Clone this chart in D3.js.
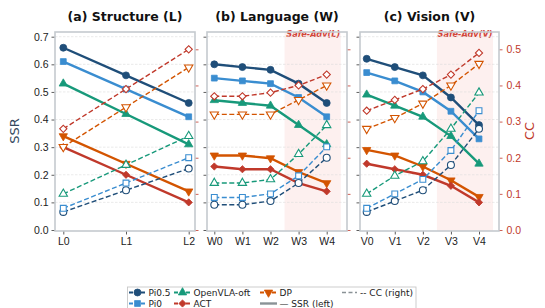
<!DOCTYPE html>
<html>
<head>
<meta charset="utf-8">
<script src="https://cdn.jsdelivr.net/npm/d3@7"></script>
<style>
  body { margin: 0; background: #fff; }
  svg { display: block; font-family: "DejaVu Sans", sans-serif; }
</style>
</head>
<body>
<svg id="chart" width="545" height="308"></svg>
<script>
// Data

const models = ['Pi0.5', 'Pi0', 'OpenVLA-oft', 'DP', 'ACT'];
const colors = ['#1f4e79', '#3a8dd0', '#17997a', '#d35400', '#c0392b'];
const markers = ['circle', 'square', 'triangle', 'triangleDown', 'diamond'];

const structCats = ['L0', 'L1', 'L2'];
const langCats = ['W0', 'W1', 'W2', 'W3', 'W4'];
const visionCats = ['V0', 'V1', 'V2', 'V3', 'V4'];

// SSR (left axis), one row per model
const ssrStructure = [
  [0.66, 0.56, 0.46],
  [0.61, 0.51, 0.41],
  [0.53, 0.42, 0.31],
  [0.34, 0.24, 0.14],
  [0.30, 0.20, 0.10],
];
const ssrLanguage = [
  [0.60, 0.59, 0.58, 0.53, 0.46],
  [0.55, 0.54, 0.53, 0.48, 0.41],
  [0.47, 0.46, 0.45, 0.38, 0.31],
  [0.27, 0.27, 0.26, 0.21, 0.17],
  [0.23, 0.22, 0.22, 0.17, 0.14],
];
const ssrVision = [
  [0.62, 0.59, 0.56, 0.48, 0.38],
  [0.57, 0.54, 0.50, 0.43, 0.33],
  [0.49, 0.45, 0.41, 0.34, 0.24],
  [0.29, 0.27, 0.23, 0.18, 0.12],
  [0.24, 0.22, 0.20, 0.16, 0.10],
];

// CC (right axis)
const ccStructure = [
  [0.05, 0.11, 0.17],
  [0.06, 0.13, 0.20],
  [0.10, 0.18, 0.26],
  [0.23, 0.34, 0.45],
  [0.28, 0.39, 0.50],
];
const ccLanguage = [
  [0.07, 0.07, 0.08, 0.13, 0.20],
  [0.09, 0.09, 0.10, 0.15, 0.23],
  [0.13, 0.13, 0.14, 0.21, 0.29],
  [0.32, 0.32, 0.32, 0.36, 0.40],
  [0.37, 0.37, 0.38, 0.40, 0.43],
];
const ccVision = [
  [0.05, 0.08, 0.11, 0.18, 0.28],
  [0.06, 0.10, 0.14, 0.22, 0.33],
  [0.10, 0.15, 0.19, 0.28, 0.38],
  [0.28, 0.31, 0.35, 0.40, 0.46],
  [0.33, 0.36, 0.39, 0.43, 0.49],
];

const ssrTicks = [0.0, 0.1, 0.2, 0.3, 0.4, 0.5, 0.6, 0.7];
const ccTicks = [0.0, 0.1, 0.2, 0.3, 0.4, 0.5];

const panels = [
  { title: '(a) Structure (L)', cats: structCats, ssr: ssrStructure, cc: ccStructure,
    left: 55, right: 195, x0: 63.3, x1: 188.7, shade: null },
  { title: '(b) Language (W)', cats: langCats, ssr: ssrLanguage, cc: ccLanguage,
    left: 207, right: 347, x0: 214.3, x1: 326.7, shade: 'Safe-Adv(L)' },
  { title: '(c) Vision (V)', cats: visionCats, ssr: ssrVision, cc: ccVision,
    left: 360, right: 499, x0: 366.7, x1: 479, shade: 'Safe-Adv(V)' },
];

// Set-up

const svg = d3.select('#chart');
const plotTop = 32;
const plotBottom = 231;
const ccColor = '#c0392b';
const frameColor = '#c5cacf';

const ySSR = d3.scaleLinear().domain([0, 0.7]).range([230, 36.7]);
const yCC = d3.scaleLinear().domain([0, 0.5]).range([230, 49.3]);

const symbolFor = {
  circle: d3.symbolCircle,
  square: d3.symbolSquare,
  triangle: d3.symbolTriangle,
  triangleDown: d3.symbolTriangle,
  diamond: d3.symbolSquare,
};
const sizeFor = { circle: 38, square: 34, triangle: 30, triangleDown: 30, diamond: 26 };
const rotateFor = { triangleDown: 180, diamond: 45 };

function drawMarker(g, kind, cx, cy, color, open) {
  g.append('path')
    .attr('d', d3.symbol().type(symbolFor[kind]).size(sizeFor[kind])())
    .attr('transform', `translate(${cx},${cy}) rotate(${rotateFor[kind] || 0})`)
    .attr('fill', open ? '#fff' : color)
    .attr('stroke', color)
    .attr('stroke-width', open ? 1.1 : 0.8);
}

panels.forEach((p, pi) => {
  const x = d3.scalePoint().domain(p.cats).range([p.x0, p.x1]);
  const step = x.step();
  const g = svg.append('g');

  // shaded region
  if (p.shade) {
    const sx0 = x(p.cats[2]) + step / 2;
    const sx1 = x(p.cats[4]) + step / 2;
    g.append('rect')
      .attr('x', sx0).attr('y', plotTop)
      .attr('width', sx1 - sx0).attr('height', plotBottom - plotTop)
      .attr('fill', '#fdf0ef');
    g.append('text')
      .attr('x', sx1 - 0.5).attr('y', 36.5)
      .attr('text-anchor', 'end')
      .style('font', 'italic bold 8.2px "DejaVu Sans"')
      .attr('fill', '#d2453a')
      .text(p.shade);
  }

  // grid
  g.selectAll('.grid')
    .data(ssrTicks.slice(1))
    .enter()
    .append('line')
    .attr('x1', p.left).attr('x2', p.right)
    .attr('y1', (d) => ySSR(d)).attr('y2', (d) => ySSR(d))
    .attr('stroke', '#dcdcdc')
    .attr('stroke-width', 0.6)
    .attr('stroke-dasharray', '2.5,1.5');

  // left axis
  const leftAxis = d3.axisLeft(ySSR).tickValues(ssrTicks).tickSize(3.5).tickPadding(3)
    .tickFormat(pi === 0 ? d3.format('.1f') : () => '');
  const la = g.append('g').attr('transform', `translate(${p.left},0)`).call(leftAxis);
  la.select('.domain').remove();
  la.selectAll('line').attr('stroke', '#333').attr('stroke-width', 0.8);
  la.selectAll('text').style('font-size', '10.5px').attr('fill', '#222');

  // right axis
  const rightAxis = d3.axisRight(yCC).tickValues(ccTicks).tickSize(3.5).tickPadding(4)
    .tickFormat(pi === 2 ? d3.format('.1f') : () => '');
  const ra = g.append('g').attr('transform', `translate(${p.right},0)`).call(rightAxis);
  ra.select('.domain').remove();
  ra.selectAll('line').attr('stroke', ccColor).attr('stroke-width', 0.8);
  ra.selectAll('text').style('font-size', '10.5px').attr('fill', ccColor);

  // bottom axis
  const bx = g.append('g').attr('transform', `translate(0,${plotBottom})`)
    .call(d3.axisBottom(x).tickSize(3.5).tickPadding(3));
  bx.select('.domain').remove();
  bx.selectAll('line').attr('stroke', '#333').attr('stroke-width', 0.8);
  bx.selectAll('text').style('font-size', '10.5px').attr('fill', '#222');

  // frame
  g.append('rect')
    .attr('x', p.left).attr('y', plotTop)
    .attr('width', p.right - p.left).attr('height', plotBottom - plotTop)
    .attr('fill', 'none')
    .attr('stroke', frameColor)
    .attr('stroke-width', 1.6);

  // title
  g.append('text')
    .attr('x', (p.left + p.right) / 2).attr('y', 21)
    .attr('text-anchor', 'middle')
    .style('font', 'bold 12.5px "DejaVu Sans"')
    .attr('fill', '#111')
    .text(p.title);

  const solid = d3.line().x((d, i) => x(p.cats[i])).y((d) => ySSR(d));
  const dashed = d3.line().x((d, i) => x(p.cats[i])).y((d) => yCC(d));

  // SSR lines
  p.ssr.forEach((vals, mi) => {
    g.append('path')
      .attr('d', solid(vals))
      .attr('fill', 'none')
      .attr('stroke', colors[mi])
      .attr('stroke-width', 2.4);
    vals.forEach((v, i) => drawMarker(g, markers[mi], x(p.cats[i]), ySSR(v), colors[mi], false));
  });

  // CC lines
  p.cc.forEach((vals, mi) => {
    g.append('path')
      .attr('d', dashed(vals))
      .attr('fill', 'none')
      .attr('stroke', colors[mi])
      .attr('stroke-width', 1.4)
      .attr('stroke-dasharray', '5,2.5');
    vals.forEach((v, i) => drawMarker(g, markers[mi], x(p.cats[i]), yCC(v), colors[mi], true));
  });
});

// Axis labels
svg.append('text')
  .attr('transform', 'translate(19,131) rotate(-90)')
  .attr('text-anchor', 'middle')
  .style('font-size', '13px')
  .attr('fill', '#34495e')
  .text('SSR');

svg.append('text')
  .attr('transform', 'translate(534,131) rotate(-90)')
  .attr('text-anchor', 'middle')
  .style('font-size', '13px')
  .attr('fill', ccColor)
  .text('CC');

// Legend
const legend = svg.append('g');
legend.append('rect')
  .attr('x', 127.5).attr('y', 287)
  .attr('width', 288.5).attr('height', 30)
  .attr('fill', '#fff')
  .attr('stroke', '#c8c8c8')
  .attr('stroke-width', 0.9);

const colX = [129, 174, 260, 342];
const rowY = [292.5, 303.5];
const legendItems = [
  { col: 0, row: 0, mi: 0 },
  { col: 0, row: 1, mi: 1 },
  { col: 1, row: 0, mi: 2 },
  { col: 1, row: 1, mi: 4 },
  { col: 2, row: 0, mi: 3 },
];

legendItems.forEach((it) => {
  const lx = colX[it.col];
  const ly = rowY[it.row];
  legend.append('line')
    .attr('x1', lx).attr('x2', lx + 17).attr('y1', ly).attr('y2', ly)
    .attr('stroke', colors[it.mi])
    .attr('stroke-width', 2.2)
    .attr('stroke-dasharray', '4,2');
  drawMarker(legend, markers[it.mi], lx + 8.5, ly, colors[it.mi], false);
  legend.append('text')
    .attr('x', lx + 19.5).attr('y', ly + 3.3)
    .style('font-size', '9px')
    .attr('fill', '#222')
    .text(models[it.mi]);
});

legend.append('line')
  .attr('x1', colX[2]).attr('x2', colX[2] + 17).attr('y1', rowY[1]).attr('y2', rowY[1])
  .attr('stroke', '#8a9296').attr('stroke-width', 2.4);
legend.append('text')
  .attr('x', colX[2] + 19.5).attr('y', rowY[1] + 3.3)
  .style('font-size', '9px').attr('fill', '#222')
  .text('\u2014 SSR (left)');

legend.append('line')
  .attr('x1', colX[3]).attr('x2', colX[3] + 15).attr('y1', rowY[0]).attr('y2', rowY[0])
  .attr('stroke', '#8a9296').attr('stroke-width', 1.5).attr('stroke-dasharray', '4,2.5');
legend.append('text')
  .attr('x', colX[3] + 18).attr('y', rowY[0] + 3.3)
  .style('font-size', '9px').attr('fill', '#222')
  .text('-- CC (right)');
</script>
</body>
</html>
